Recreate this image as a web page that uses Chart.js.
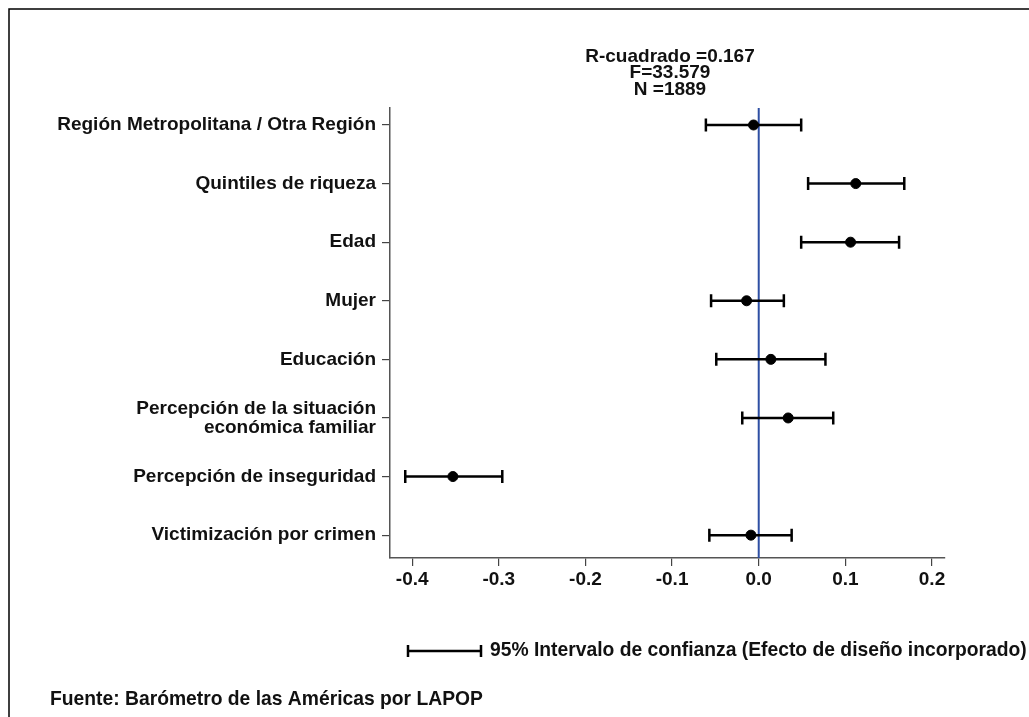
<!DOCTYPE html>
<html>
<head>
<meta charset="utf-8">
<script src="https://cdn.jsdelivr.net/npm/chart.js@4"></script>
<style>
html,body{margin:0;padding:0;background:#fff;}
#wrap{width:1029px;height:717px;position:relative;}
</style>
</head>
<body>
<div id="wrap"><canvas id="c" width="1029" height="717"></canvas></div>
<script>
const categories = [
  "Región Metropolitana / Otra Región",
  "Quintiles de riqueza",
  "Edad",
  "Mujer",
  "Educación",
  ["Percepción de la situación", "económica familiar"],
  "Percepción de inseguridad",
  "Victimización por crimen"
];
const coefficients = [-0.006, 0.112, 0.106, -0.014, 0.014, 0.034, -0.353, -0.009];
const lowerCI      = [-0.061, 0.057, 0.049, -0.055, -0.049, -0.019, -0.408, -0.057];
const upperCI      = [0.049, 0.168, 0.162, 0.029, 0.077, 0.086, -0.296, 0.038];
const xTicks = [-0.4, -0.3, -0.2, -0.1, 0.0, 0.1, 0.2];
const statsLines = ["R-cuadrado =0.167", "F=33.579", "N =1889"];
const legendText = "95% Intervalo de confianza (Efecto de diseño incorporado)";
const sourceText = "Fuente: Barómetro de las Américas por LAPOP";

const FONT = "'Liberation Sans', Arial, sans-serif";

const decor = {
  id: 'decor',
  beforeDatasetsDraw(chart) {
    const ctx = chart.ctx, xs = chart.scales.x, ys = chart.scales.y;
    const area = chart.chartArea;
    ctx.save();
    // frame
    ctx.strokeStyle = '#000'; ctx.lineWidth = 1.5;
    ctx.beginPath(); ctx.moveTo(9, 717); ctx.lineTo(9, 9); ctx.lineTo(1029, 9); ctx.stroke();
    // zero line
    const x0 = xs.getPixelForValue(0);
    ctx.strokeStyle = '#2e4fa3'; ctx.lineWidth = 2;
    ctx.beginPath(); ctx.moveTo(x0, area.top); ctx.lineTo(x0, area.bottom); ctx.stroke();
    // error bars
    ctx.strokeStyle = '#000'; ctx.lineWidth = 2.5;
    for (let i = 0; i < coefficients.length; i++) {
      const y = ys.getPixelForValue(i);
      const a = xs.getPixelForValue(lowerCI[i]), b = xs.getPixelForValue(upperCI[i]);
      ctx.beginPath();
      ctx.moveTo(a, y); ctx.lineTo(b, y);
      ctx.moveTo(a, y - 6.5); ctx.lineTo(a, y + 6.5);
      ctx.moveTo(b, y - 6.5); ctx.lineTo(b, y + 6.5);
      ctx.stroke();
    }
    // stats text
    ctx.fillStyle = '#111';
    ctx.font = "bold 19px " + FONT;
    ctx.textAlign = 'center'; ctx.textBaseline = 'middle';
    statsLines.forEach((t, k) => ctx.fillText(t, 670, 56.5 + k * 16.5));
    // legend
    ctx.lineWidth = 2.5;
    ctx.beginPath();
    ctx.moveTo(408, 651); ctx.lineTo(481, 651);
    ctx.moveTo(408, 645); ctx.lineTo(408, 657);
    ctx.moveTo(481, 645); ctx.lineTo(481, 657);
    ctx.stroke();
    ctx.font = "bold 19.3px " + FONT;
    ctx.textAlign = 'left';
    ctx.fillText(legendText, 490, 651);
    ctx.fillText(sourceText, 50, 700);
    ctx.restore();
  }
};

new Chart(document.getElementById('c'), {
  type: 'scatter',
  data: {
    datasets: [{
      data: coefficients.map((v, i) => ({x: v, y: i})),
      backgroundColor: '#000',
      borderColor: '#000',
      pointRadius: 5,
      pointHoverRadius: 5
    }]
  },
  options: {
    responsive: false,
    animation: false,
    events: [],
    layout: {padding: {top: 108, right: 84, left: 0, bottom: 0}},
    plugins: {legend: {display: false}, tooltip: {enabled: false}},
    scales: {
      x: {
        type: 'linear',
        min: -0.4256, max: 0.215,
        afterBuildTicks: s => { s.ticks = xTicks.map(v => ({value: v})); },
        afterFit: s => { s.height = 159; },
        grid: {drawOnChartArea: false, drawTicks: true, tickLength: 8, color: '#444', lineWidth: 1.2},
        border: {color: '#555', width: 1.5},
        ticks: {
          color: '#111', padding: 2,
          font: {family: FONT, size: 19, weight: 'bold'},
          callback: v => v.toFixed(1)
        }
      },
      y: {
        type: 'linear',
        reverse: true,
        min: -0.29, max: 7.39,
        afterBuildTicks: s => { s.ticks = categories.map((c, i) => ({value: i})); },
        afterFit: s => { s.width = 390; },
        grid: {drawOnChartArea: false, drawTicks: true, tickLength: 8, color: '#444', lineWidth: 1.2},
        border: {color: '#555', width: 1.5},
        ticks: {
          color: '#111', padding: 6,
          font: {family: FONT, size: 19, weight: 'bold', lineHeight: 1.0},
          callback: (v) => categories[v]
        }
      }
    }
  },
  plugins: [decor]
});
</script>
</body>
</html>
